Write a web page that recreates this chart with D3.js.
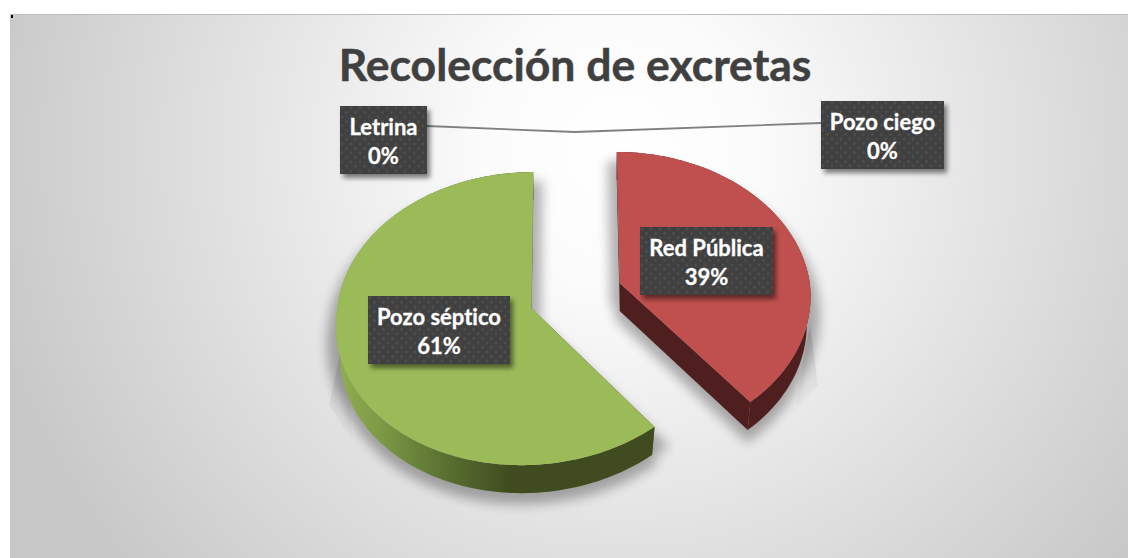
<!DOCTYPE html>
<html><head><meta charset="utf-8">
<script src="https://cdn.jsdelivr.net/npm/d3@7"></script>
<style>html,body{margin:0;padding:0;background:#fff}svg{display:block}text{font-family:Lato,"Open Sans",sans-serif;font-weight:700;font-variant-ligatures:none}</style>
</head><body><div id="c"></div>
<script>
const title = "Recolección de excretas";
const categories = ["Red Pública", "Pozo séptico", "Letrina", "Pozo ciego"];
const seriesValues = [39, 61, 0, 0];
const sliceColors = ["#c0504d", "#9bbb59", "#8064a2", "#4bacc6"];

const W = 1128, H = 558;
const geo = {cx: 575.5, cy: 295.5, depth: 28, shrink: 0.98, ex: 47, ey: 37};
const view = {
  "Red Pública": {R: 190, Ry: 143.3, k: 0.094, lowSkew: 0, topSkew: -3},
  "Pozo séptico": {R: 194, Ry: 145.8, k: 0.072, lowSkew: 10, topSkew: 2}
};
const labelBoxes = {
  "Red Pública": {x: 640, y: 227, w: 133, h: 68},
  "Pozo séptico": {x: 368, y: 296, w: 142, h: 68},
  "Letrina": {x: 340, y: 106, w: 87, h: 68},
  "Pozo ciego": {x: 821, y: 101, w: 123, h: 68}
};
const leaderPts = [[427, 126], [575, 132], [821, 123]];
const shadowWedges = [
  [[342, 345], [329, 405], [352, 440], [350, 380]],
  [[810, 325], [818, 385], [795, 410], [805, 350]]
];

const svg = d3.select("#c").append("svg").attr("width", W).attr("height", H);
const defs = svg.append("defs");
const bg = defs.append("radialGradient").attr("id", "bg").attr("gradientUnits", "userSpaceOnUse")
  .attr("cx", 620).attr("cy", 150).attr("r", 680);
bg.append("stop").attr("offset", 0).attr("stop-color", "#ffffff");
bg.append("stop").attr("offset", 0.2).attr("stop-color", "#fbfbfb");
bg.append("stop").attr("offset", 0.95).attr("stop-color", "#c8c8c8");
bg.append("stop").attr("offset", 1).attr("stop-color", "#c8c8c8");

const gs = defs.append("linearGradient").attr("id", "greenSide").attr("gradientUnits", "userSpaceOnUse")
  .attr("x1", 340).attr("x2", 510).attr("y1", 0).attr("y2", 0);
[[0, "#8fad52"], [0.25, "#7b9844"], [0.6, "#5b7232"], [1, "#404c20"]].forEach(s =>
  gs.append("stop").attr("offset", s[0]).attr("stop-color", s[1]));

const wedgeFade = defs.append("linearGradient").attr("id", "wedgeFade").attr("x1", 0).attr("x2", 0).attr("y1", 0).attr("y2", 1);
wedgeFade.append("stop").attr("offset", 0).attr("stop-color", "#000").attr("stop-opacity", 0.12);
wedgeFade.append("stop").attr("offset", 1).attr("stop-color", "#000").attr("stop-opacity", 0.01);

const blur = defs.append("filter").attr("id", "blur").attr("x", "-30%").attr("y", "-30%").attr("width", "160%").attr("height", "160%");
blur.append("feGaussianBlur").attr("stdDeviation", 6);
const boxShadow = defs.append("filter").attr("id", "boxShadow").attr("x", "-20%").attr("y", "-20%").attr("width", "140%").attr("height", "140%");
boxShadow.append("feDropShadow").attr("dx", 3).attr("dy", 4).attr("stdDeviation", 2.5).attr("flood-color", "#000").attr("flood-opacity", 0.5);

const pat = defs.append("pattern").attr("id", "dots").attr("patternUnits", "userSpaceOnUse").attr("width", 9).attr("height", 9);
pat.append("rect").attr("width", 9).attr("height", 9).attr("fill", "#404040");
pat.selectAll("circle").data([[2, 2], [6.5, 6.5]]).join("circle")
  .attr("cx", d => d[0]).attr("cy", d => d[1]).attr("r", 1.4).attr("fill", "#4d4d4d");

svg.append("rect").attr("width", W).attr("height", H).attr("fill", "#fff");
svg.append("rect").attr("x", 10).attr("y", 14).attr("width", W - 10).attr("height", H - 14).attr("fill", "url(#bg)");
svg.append("rect").attr("x", 10).attr("y", 14).attr("width", W - 10).attr("height", 1).attr("fill", "#bdbdbd");
svg.append("rect").attr("x", 11).attr("y", 15).attr("width", 2).attr("height", 3).attr("fill", "#000");

svg.append("text").attr("x", 575).attr("y", 81).attr("text-anchor", "middle")
  .attr("font-size", 44.5).attr("fill", "#404040").attr("stroke", "#404040").attr("stroke-width", 0.5).text(title);

const pie = d3.pie().sort(null).value(d => d.value);
const rows = categories.map((c, i) => ({category: c, value: seriesValues[i], color: sliceColors[i]}));
const arcs = pie(rows);

function project(d, a, r, depth) {
  const o = origin(d), p = view[d.data.category];
  const u = r * Math.sin(a), v = r * Math.cos(a);
  const s = 1 / (1 + p.k * v);
  const sh = depth ? geo.shrink : 1;
  const skew = v > 0 ? p.topSkew * v : p.lowSkew * v;
  return [o[0] + (p.R * u * s + skew) * sh, o[1] - p.Ry * v * s + (depth ? geo.depth : 0)];
}
function origin(d) {
  const m = (d.startAngle + d.endAngle) / 2;
  return [geo.cx + geo.ex * Math.sin(m), geo.cy - geo.ey * Math.cos(m)];
}
function rimAngles(d) {
  const n = Math.max(2, Math.ceil((d.endAngle - d.startAngle) / 0.02));
  return d3.range(n + 1).map(i => d.startAngle + (d.endAngle - d.startAngle) * i / n);
}
const line = d3.line();
const drawn = arcs.filter(d => d.value > 0);

function outline(d, depth) {
  const pts = [project(d, 0, 0, depth)].concat(rimAngles(d).map(a => project(d, a, 1, depth)));
  return line(pts) + "Z";
}

// faint hard-edged shadow wedges either side of the pie
svg.append("g").selectAll("path").data(shadowWedges).join("path")
  .attr("d", d => line(d) + "Z").attr("fill", "url(#wedgeFade)");

// soft cast shadows
const shadows = svg.append("g").attr("filter", "url(#blur)").attr("opacity", 0.3);
shadows.selectAll("path.a").data(drawn).join("path").attr("class", "a")
  .attr("d", d => outline(d, true))
  .attr("transform", "translate(0,7)").attr("fill", "#000").attr("stroke", "#000").attr("stroke-width", 8);
shadows.selectAll("path.b").data(drawn).join("path").attr("class", "b")
  .attr("d", d => outline(d, false))
  .attr("transform", "translate(0,18)").attr("fill", "#000").attr("stroke", "#000").attr("stroke-width", 18);

// side walls
const sideFill = d => d.data.category === "Pozo séptico" ? "url(#greenSide)" : "#4f1f1f";
const walls = svg.append("g");
drawn.forEach(d => {
  const as = rimAngles(d);
  const upper = as.map(a => project(d, a, 1, false));
  const lower = as.map(a => project(d, a, 1, true)).reverse();
  const c0 = project(d, 0, 0, false), c1 = project(d, 0, 0, true);
  const faces = [
    upper.concat(lower),
    [c0, upper[0], lower[lower.length - 1], c1],
    [c0, upper[upper.length - 1], lower[0], c1]
  ];
  walls.append("g").selectAll("path").data(faces).join("path")
    .attr("d", s => line(s) + "Z").attr("fill", sideFill(d));
});

// top faces
svg.append("g").selectAll("path").data(drawn).join("path")
  .attr("d", d => outline(d, false)).attr("fill", d => d.data.color);

// leader lines
svg.append("path").attr("d", line(leaderPts)).attr("fill", "none").attr("stroke", "#7f7f7f").attr("stroke-width", 1.8);

// labels
const fmt = d3.format(".0%");
const total = d3.sum(seriesValues);
const lab = svg.append("g").selectAll("g").data(rows).join("g")
  .attr("transform", d => `translate(${labelBoxes[d.category].x},${labelBoxes[d.category].y})`);
lab.append("rect").attr("width", d => labelBoxes[d.category].w).attr("height", d => labelBoxes[d.category].h)
  .attr("fill", "#404040").attr("filter", "url(#boxShadow)");
lab.append("rect").attr("width", d => labelBoxes[d.category].w).attr("height", d => labelBoxes[d.category].h)
  .attr("fill", "url(#dots)");
lab.append("text").attr("x", d => labelBoxes[d.category].w / 2).attr("y", 29).attr("text-anchor", "middle")
  .attr("font-size", 22).attr("fill", "#fff").attr("stroke", "#fff").attr("stroke-width", 0.3).text(d => d.category);
lab.append("text").attr("x", d => labelBoxes[d.category].w / 2).attr("y", 58).attr("text-anchor", "middle")
  .attr("font-size", 22).attr("fill", "#fff").attr("stroke", "#fff").attr("stroke-width", 0.3).text(d => fmt(d.value / total));
</script></body></html>
